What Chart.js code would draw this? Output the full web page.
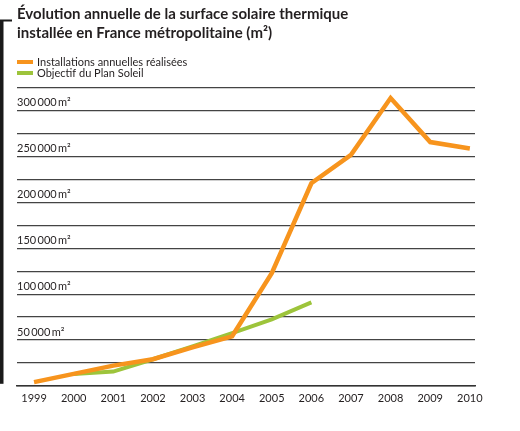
<!DOCTYPE html>
<html>
<head>
<meta charset="utf-8">
<script src="https://cdn.jsdelivr.net/npm/chart.js@4"></script>
<style>
  html, body { margin: 0; padding: 0; background: #fff; }
  #wrap { width: 520px; height: 431px; }
</style>
</head>
<body>
<div id="wrap"><canvas id="c"></canvas></div>
<script>
const years = [1999, 2000, 2001, 2002, 2003, 2004, 2005, 2006, 2007, 2008, 2009, 2010];
const installations = [4000, 13000, 22000, 29000, 42000, 54000, 123000, 221000, 252000, 314000, 266000, 259000];
const objectifYears = [2000, 2001, 2002, 2003, 2004, 2005, 2006];
const objectif = [13000, 15500, 29000, 43000, 57500, 72500, 91000];
const titleLines = ['Évolution annuelle de la surface solaire thermique', 'installée en France métropolitaine (m²)'];

const FONT = 'Lato, "Open Sans", sans-serif';

// title, legend and the left bracket are drawn by hand
const decor = {
  id: 'decor',
  afterDraw(chart) {
    const { ctx, chartArea } = chart;
    ctx.save();
    ctx.fillStyle = '#1a1a1a';
    ctx.fillRect(0, 20, 3.5, chartArea.bottom - 2 - 20);
    ctx.fillRect(0, 19.5, 12, 2);

    ctx.fillStyle = '#231f20';
    ctx.font = 'bold 15px ' + FONT;
    ctx.textBaseline = 'alphabetic';
    ctx.textAlign = 'left';
    ctx.fillText(titleLines[0], chartArea.left, 19);
    ctx.fillText(titleLines[1], chartArea.left, 38);

    ctx.font = '11px ' + FONT;
    chart.data.datasets.forEach((ds, i) => {
      const y = 62 + i * 11;
      ctx.fillStyle = ds.borderColor;
      ctx.fillRect(chartArea.left, y - 2, 16, 4);
      ctx.fillStyle = '#231f20';
      ctx.textBaseline = 'middle';
      ctx.fillText(ds.label, chartArea.left + 20, y);
    });
    ctx.restore();
  }
};

new Chart(document.getElementById('c'), {
  type: 'line',
  data: {
    datasets: [
      {
        label: 'Installations annuelles réalisées',
        data: years.map((x, i) => ({ x, y: installations[i] })),
        borderColor: '#f7941d',
        borderWidth: 4.5,
        pointRadius: 0,
        tension: 0,
      },
      {
        label: 'Objectif du Plan Soleil',
        data: objectifYears.map((x, i) => ({ x, y: objectif[i] })),
        borderColor: '#9dc43b',
        borderWidth: 4,
        pointRadius: 0,
        tension: 0,
      },
    ],
  },
  options: {
    responsive: true,
    maintainAspectRatio: false,
    animation: false,
    layout: { padding: { top: 88, left: 17, right: 45, bottom: 20 } },
    plugins: {
      legend: { display: false },
      tooltip: { enabled: false },
    },
    scales: {
      x: {
        type: 'linear',
        min: 1998.57,
        max: 2010.13,
        afterBuildTicks(axis) {
          axis.ticks = years.map(v => ({ value: v }));
        },
        grid: { display: false, drawTicks: false },
        border: { display: true, color: '#333', width: 1.5 },
        ticks: {
          color: '#231f20',
          font: { family: FONT, size: 11 },
          padding: 6,
          maxRotation: 0,
          autoSkip: false,
          callback: v => String(v),
        },
      },
      y: {
        min: 0,
        max: 325000,
        grid: { color: '#444', lineWidth: 1.3, drawTicks: false },
        border: { display: false },
        ticks: {
          stepSize: 25000,
          mirror: true,
          padding: 0,
          labelOffset: -8,
          color: '#231f20',
          font: { family: FONT, size: 11 },
          callback: v => (v > 0 && v % 50000 === 0)
            ? String(v / 1000) + '\u2009000\u2009m²'
            : '',
        },
      },
    },
  },
  plugins: [decor],
});
</script>
</body>
</html>
